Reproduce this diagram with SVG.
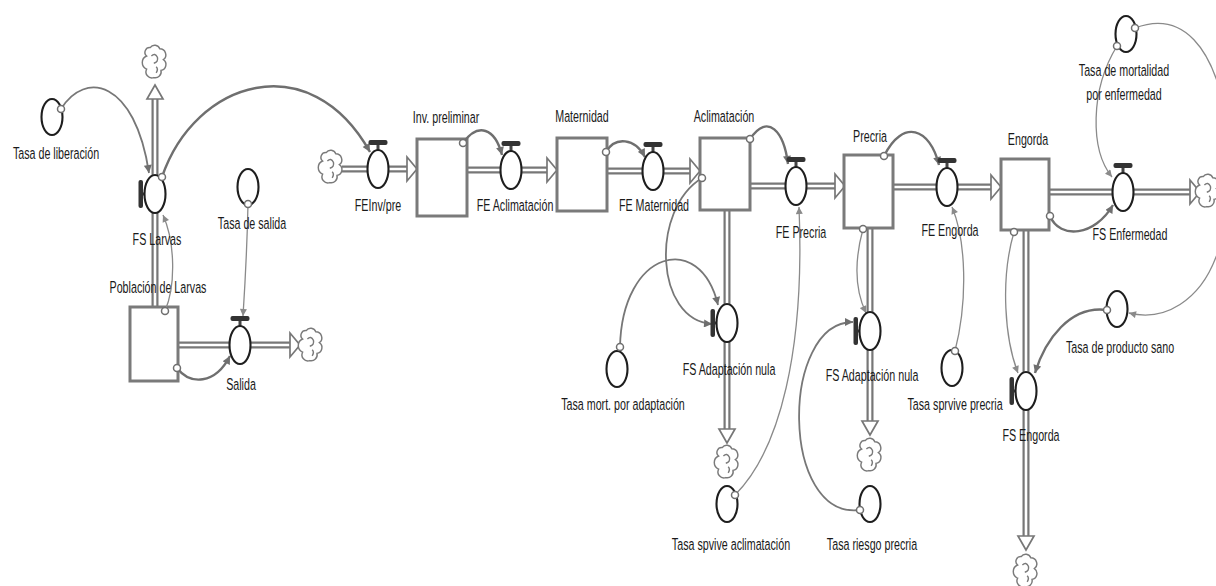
<svg xmlns="http://www.w3.org/2000/svg" xmlns:xlink="http://www.w3.org/1999/xlink" width="1216" height="586" viewBox="0 0 1216 586">
<defs>
<style>
.po{fill:none;stroke:#777;stroke-width:7}
.pi{fill:none;stroke:#fff;stroke-width:2.6}
.stock{fill:#fff;stroke:#7a7a7a;stroke-width:3}
.conv{fill:#fff;stroke:#1e1e1e;stroke-width:2.1}
.cn{fill:none;stroke:#6f6f6f;stroke-width:2.4;marker-end:url(#ah)}
.cm{fill:none;stroke:#777;stroke-width:1.8;marker-end:url(#ah)}
.ct{fill:none;stroke:#8a8a8a;stroke-width:1.3;marker-end:url(#ah2)}
.dot{fill:#fff;stroke:#6f6f6f;stroke-width:1.5}
.head{fill:#fff;stroke:#777;stroke-width:1.7;stroke-linejoin:miter}
.cl{fill:#fff;stroke:#7a7a7a;stroke-width:1.2}
.hd{fill:#333}
text{font-family:"Liberation Sans",Arial,sans-serif;font-size:17px;fill:#1a1a1a;text-anchor:middle;transform-box:fill-box;transform-origin:center;transform:scaleX(.63)}
</style>
<marker id="ah" viewBox="0 0 10 10" refX="10" refY="5" markerWidth="9" markerHeight="8" markerUnits="userSpaceOnUse" orient="auto"><path d="M0,0 L10,5 L0,10 z" fill="#6f6f6f"/></marker>
<marker id="ah2" viewBox="0 0 10 10" refX="10" refY="5" markerWidth="8" markerHeight="7" markerUnits="userSpaceOnUse" orient="auto"><path d="M0,0 L10,5 L0,10 z" fill="#8a8a8a"/></marker>
<g id="cloud" transform="scale(1.2)"><path class="cl" d="M-4,-12 A4.5 4.5 0 0 1 4,-11 A5 5 0 0 1 7,-2 A5 5 0 0 1 5,7 A5 5 0 0 1 -1,13 A5 5 0 0 1 -7,6 A6 6 0 0 1 -7,-5 A4 4 0 0 1 -4,-12 Z"/><path class="cl" fill="none" d="M-3,-5 q3,-3 5,1 q1,4 -3,5 M1,4 q2,2 0,5"/></g>
<g id="vh"><rect x="-1.5" y="-25" width="3" height="6" fill="#444"/><rect class="hd" x="-9.5" y="-29" width="19" height="5" rx="2"/><ellipse class="conv" rx="10.5" ry="19"/></g>
<g id="vv"><rect x="-13" y="-1.5" width="3" height="3" fill="#444"/><rect class="hd" x="-16.5" y="-14" width="4.5" height="28" rx="2"/><ellipse class="conv" rx="10.5" ry="19"/></g>
<g id="cv"><ellipse class="conv" rx="10.5" ry="18"/></g>
<path id="ar" class="head" d="M-10,-12 L0,0 L-10,12 Z"/>
<path id="ad" class="head" d="M-8,-14 L0,0 L8,-14 Z"/>
<path id="au" class="head" d="M-8,14 L0,0 L8,14 Z"/>
</defs>
<rect width="1216" height="586" fill="#fff"/>

<g id="flows">
<path class="po" d="M155,307 V97 M178,345 H290 M342,169 H407 M467,170 H547 M607,171 H690 M750,186 H835 M893,187 H991 M1049,192 H1190 M727,210 V429 M870,228 V421 M1026,230 V536"/>
<path class="pi" d="M155,307 V97 M178,345 H290 M342,169 H407 M467,170 H547 M607,171 H690 M750,186 H835 M893,187 H991 M1049,192 H1190 M727,210 V429 M870,228 V421 M1026,230 V536"/>
<use href="#ar" x="417" y="169"/><use href="#ar" x="557" y="170"/><use href="#ar" x="700" y="171"/><use href="#ar" x="845" y="186"/><use href="#ar" x="1001" y="187"/><use href="#ar" x="1200" y="192"/><use href="#ar" x="300" y="345"/>
<use href="#au" x="155" y="85"/><use href="#ad" x="727" y="443"/><use href="#ad" x="870" y="435"/><use href="#ad" x="1026" y="550"/>
<use href="#cloud" x="155" y="62"/><use href="#cloud" x="311" y="345"/><use href="#cloud" x="331" y="167"/><use href="#cloud" x="727" y="462"/><use href="#cloud" x="870" y="455"/><use href="#cloud" x="1208" y="191"/><use href="#cloud" x="1026" y="571"/>
</g>

<g id="stock-poblacion"><rect class="stock" x="130" y="307" width="48" height="74"/><text x="158" y="293">Población de Larvas</text></g>
<g id="stock-inv"><rect class="stock" x="417" y="139" width="50" height="77"/><text x="446" y="123">Inv. preliminar</text></g>
<g id="stock-maternidad"><rect class="stock" x="557" y="138" width="50" height="73"/><text x="582" y="122">Maternidad</text></g>
<g id="stock-aclimatacion"><rect class="stock" x="700" y="138" width="50" height="72"/><text x="724" y="122">Aclimatación</text></g>
<g id="stock-precria"><rect class="stock" x="844" y="155" width="49" height="73"/><text x="870" y="142">Precria</text></g>
<g id="stock-engorda"><rect class="stock" x="1001" y="159" width="48" height="71"/><text x="1028" y="145">Engorda</text></g>

<g id="connectors">
<path class="cm" d="M61,109 C85,70 135,80 149,173"/>
<path class="cn" d="M162,177 C195,80 310,45 370,152"/>
<path class="ct" d="M165,311 C176,285 175,242 163,215"/>
<path class="ct" d="M248,204 C247,250 245,285 243,316"/>
<path class="cn" d="M177,368 C190,385 215,385 230,356"/>
<path class="cn" d="M463,143 C478,122 495,128 502,155"/>
<path class="cn" d="M606,152 C615,136 635,138 645,157"/>
<path class="cn" d="M750,139 C768,112 784,132 788,164"/>
<path class="cn" d="M884,156 C903,118 930,128 939,165"/>
<path class="cm" d="M702,178 C650,210 655,320 712,324"/>
<path class="cm" d="M620,347 C622,250 700,230 718,305"/>
<path class="ct" d="M735,495 C780,450 805,350 799,207"/>
<path class="ct" d="M863,229 C854,262 855,290 866,313"/>
<path class="cm" d="M860,510 C780,520 780,322 853,322"/>
<path class="ct" d="M955,351 C968,300 966,240 952,207"/>
<path class="cn" d="M1050,216 C1060,240 1095,236 1113,205"/>
<path class="ct" d="M1117,46 C1090,90 1090,150 1112,177"/>
<path class="ct" d="M1135,28 C1235,-10 1245,200 1216,257 C1200,300 1165,322 1129,313"/>
<path class="cn" d="M1107,310 C1070,305 1045,340 1035,373"/>
<path class="ct" d="M1014,232 C1000,280 1005,340 1018,373"/>
</g>

<g id="flow-fs-larvas"><use href="#vv" x="155" y="194"/><text x="157" y="245">FS Larvas</text></g>
<g id="flow-salida"><use href="#vh" x="240" y="345"/><text x="241" y="390">Salida</text></g>
<g id="flow-feinv"><use href="#vh" x="378" y="169"/><text x="378" y="211">FEInv/pre</text></g>
<g id="flow-fe-aclimatacion"><use href="#vh" x="511" y="170"/><text x="515" y="211">FE Aclimatación</text></g>
<g id="flow-fe-maternidad"><use href="#vh" x="653" y="171"/><text x="654" y="211">FE Maternidad</text></g>
<g id="flow-fe-precria"><use href="#vh" x="796" y="186"/><text x="801" y="238">FE Precria</text></g>
<g id="flow-fe-engorda"><use href="#vh" x="947" y="187"/><text x="950" y="236">FE Engorda</text></g>
<g id="flow-fs-enfermedad"><use href="#vh" x="1123" y="192"/><text x="1130" y="240">FS Enfermedad</text></g>
<g id="flow-fs-adaptacion-1"><use href="#vv" x="727" y="323"/><text x="729" y="375">FS Adaptación nula</text></g>
<g id="flow-fs-adaptacion-2"><use href="#vv" x="870" y="331"/><text x="872" y="381">FS Adaptación nula</text></g>
<g id="flow-fs-engorda"><use href="#vv" x="1026" y="391"/><text x="1031" y="441">FS Engorda</text></g>

<g id="conv-liberacion"><use href="#cv" x="52" y="117"/><text x="56" y="159">Tasa de liberación</text></g>
<g id="conv-salida"><use href="#cv" x="248" y="187"/><text x="252" y="229">Tasa de salida</text></g>
<g id="conv-mort-adaptacion"><use href="#cv" x="617" y="369"/><text x="623" y="410">Tasa mort. por adaptación</text></g>
<g id="conv-spvive"><use href="#cv" x="727" y="504"/><text x="731" y="550">Tasa spvive aclimatación</text></g>
<g id="conv-riesgo"><use href="#cv" x="870" y="504"/><text x="872" y="550">Tasa riesgo precria</text></g>
<g id="conv-sprvive"><use href="#cv" x="952" y="368"/><text x="955" y="410">Tasa sprvive precria</text></g>
<g id="conv-producto-sano"><use href="#cv" x="1117" y="309"/><text x="1120" y="353">Tasa de producto sano</text></g>
<g id="conv-mortalidad"><use href="#cv" x="1126" y="34"/><text x="1124" y="76">Tasa de mortalidad</text><text x="1124" y="100">por enfermedad</text></g>

<g id="connector-origins">
<circle class="dot" cx="61" cy="109" r="3.5"/><circle class="dot" cx="162" cy="177" r="3.5"/><circle class="dot" cx="165" cy="311" r="3.5"/><circle class="dot" cx="248" cy="204" r="3.5"/><circle class="dot" cx="177" cy="368" r="3.5"/><circle class="dot" cx="463" cy="143" r="3.5"/><circle class="dot" cx="606" cy="152" r="3.5"/><circle class="dot" cx="750" cy="139" r="3.5"/><circle class="dot" cx="884" cy="156" r="3.5"/><circle class="dot" cx="702" cy="178" r="3.5"/><circle class="dot" cx="620" cy="347" r="3.5"/><circle class="dot" cx="735" cy="495" r="3.5"/><circle class="dot" cx="863" cy="229" r="3.5"/><circle class="dot" cx="860" cy="510" r="3.5"/><circle class="dot" cx="955" cy="351" r="3.5"/><circle class="dot" cx="1050" cy="216" r="3.5"/><circle class="dot" cx="1117" cy="46" r="3.5"/><circle class="dot" cx="1135" cy="28" r="3.5"/><circle class="dot" cx="1107" cy="310" r="3.5"/><circle class="dot" cx="1014" cy="232" r="3.5"/>
</g>
</svg>
